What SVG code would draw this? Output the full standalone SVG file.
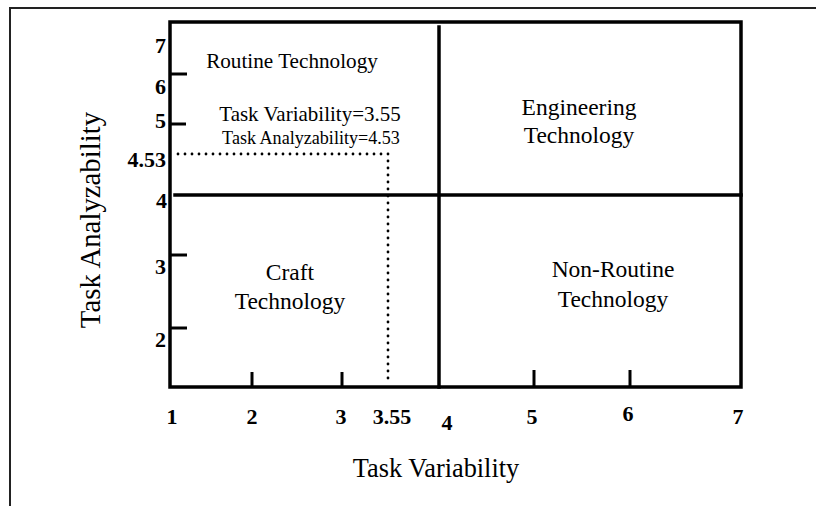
<svg xmlns="http://www.w3.org/2000/svg" width="816" height="506" viewBox="0 0 816 506">
<style>
.ax{stroke:#000;stroke-width:3.5;fill:none;stroke-linecap:square}
.tk{stroke:#000;stroke-width:3;fill:none}
.dot{stroke:#000;stroke-width:2.8;fill:none;stroke-linecap:round;stroke-dasharray:0 7}
.num{font-family:"Liberation Serif",serif;font-weight:bold;font-size:22px;fill:#000}
.lbl{font-family:"Liberation Serif",serif;fill:#000;text-anchor:middle}
.q{font-size:23.5px}
.ttl{font-family:"Liberation Serif",serif;fill:#000;text-anchor:middle}
</style>
<rect x="0" y="0" width="816" height="506" fill="#fff"/>
<rect x="10" y="8" width="830" height="530" fill="none" stroke="#222" stroke-width="2"/>
<g id="plot-frame">
<rect class="ax" x="170" y="22" width="571" height="365"/>
</g>
<g id="connectors">
<line class="ax" x1="439" y1="27" x2="439" y2="387"/>
<line class="ax" x1="175" y1="195" x2="741" y2="195"/>
<line class="dot" x1="178" y1="154" x2="388" y2="154"/>
<line class="dot" x1="388" y1="154" x2="388" y2="384"/>
</g>
<g id="y-ticks">
<line class="tk" x1="170" y1="74" x2="187" y2="74"/>
<line class="tk" x1="170" y1="124" x2="186" y2="124"/>
<line class="tk" x1="170" y1="255" x2="187" y2="255"/>
<line class="tk" x1="170" y1="328" x2="187" y2="328" stroke-width="2"/>
</g>
<g id="x-ticks">
<line class="tk" x1="252" y1="372" x2="252" y2="387"/>
<line class="tk" x1="342" y1="372" x2="342" y2="387"/>
<line class="tk" x1="534" y1="370" x2="534" y2="387"/>
<line class="tk" x1="630" y1="370" x2="630" y2="387"/>
</g>
<g id="y-labels" text-anchor="end">
<text class="num" x="166" y="53">7</text>
<text class="num" x="166" y="94">6</text>
<text class="num" x="166" y="128">5</text>
<text class="num" x="166" y="167">4.53</text>
<text class="num" x="167" y="208">4</text>
<text class="num" x="166" y="347">2</text>
<text class="num" x="166" y="274">3</text>
</g>
<g id="x-labels" text-anchor="middle">
<text class="num" x="172" y="424">1</text>
<text class="num" x="252" y="424">2</text>
<text class="num" x="341" y="424">3</text>
<text class="num" x="392" y="424">3.55</text>
<text class="num" x="447" y="430">4</text>
<text class="num" x="532" y="424">5</text>
<text class="num" x="628" y="421">6</text>
<text class="num" x="738" y="424">7</text>
</g>
<g id="routine">
<text class="lbl" x="292" y="68" style="font-size:21.2px">Routine Technology</text>
</g>
<g id="point-annotation">
<text class="lbl" x="310" y="121" style="font-size:21px">Task Variability=3.55</text>
<text class="lbl" x="311" y="144" style="font-size:18.1px">Task Analyzability=4.53</text>
</g>
<g id="engineering">
<text class="lbl q" x="579" y="115">Engineering</text>
<text class="lbl q" x="579" y="143">Technology</text>
</g>
<g id="craft">
<text class="lbl q" x="290" y="280">Craft</text>
<text class="lbl q" x="290" y="309">Technology</text>
</g>
<g id="non-routine">
<text class="lbl q" x="613" y="277">Non-Routine</text>
<text class="lbl q" x="613" y="307">Technology</text>
</g>
<g id="axis-titles">
<text class="ttl" x="436" y="477" style="font-size:26.3px">Task Variability</text>
<text class="ttl" transform="translate(100 220) rotate(-90)" style="font-size:28.8px">Task Analyzability</text>
</g>
</svg>
